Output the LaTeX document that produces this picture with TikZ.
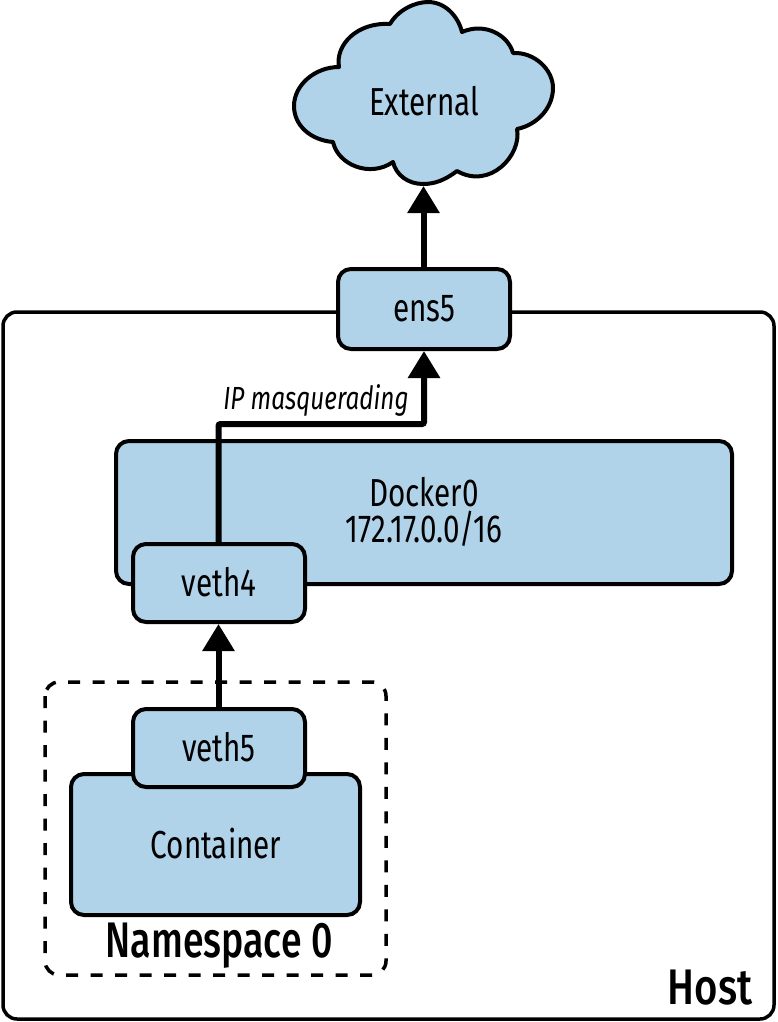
\documentclass[tikz,border=0pt]{standalone}
\usepackage{fontspec}
\usepackage{graphicx}
\setmainfont[FakeStretch=0.76]{Fira Sans}
\newfontfamily\medfont[FakeStretch=0.75]{Fira Sans Medium}
\usetikzlibrary{arrows.meta}
\definecolor{boxblue}{HTML}{B0D3EA}
\tikzset{
  netbox/.style={draw=black,fill=boxblue,line width=4pt,rounded corners=13pt,minimum width=#1,inner sep=0pt,anchor=center},
  lbl/.style={font=\fontsize{39}{37}\selectfont,inner sep=0pt,align=center},
  big/.style={font=\fontsize{50}{44}\medfont,inner sep=0pt},
  flow/.style={line width=6pt,-{Triangle[length=27pt,width=31pt]}},
}
\begin{document}
\begin{tikzpicture}[x=1pt,y=-1pt]
\useasboundingbox (0,0) rectangle (777,1022);
% host
\draw[line width=3.5pt,rounded corners=14pt] (3,312) rectangle (774,1019);
\node[big] (host) at (710,988) {\scalebox{1.07}[1]{Host}};
% namespace
\draw[line width=3.5pt,dashed,dash pattern=on 12pt off 12.5pt,rounded corners=14pt] (45,682) rectangle (386,975);
\node[big] (ns) at (219,946) {Namespace 0};
% cloud
\draw[fill=boxblue,line width=4pt,line join=round] (339,67)
  .. controls (335,45) and (357,22) .. (390,24)
  .. controls (398,10) and (415,2) .. (428,2)
  .. controls (445,2) and (458,16) .. (462,32)
  .. controls (485,22) and (508,35) .. (513,53)
  .. controls (535,52) and (553,70) .. (553,88)
  .. controls (553,108) and (537,125) .. (517,129)
  .. controls (522,155) and (490,190) .. (457,171)
  .. controls (445,180) and (435,184) .. (423,184)
  .. controls (408,184) and (396,175) .. (393,162)
  .. controls (370,178) and (338,165) .. (333,142)
  .. controls (310,140) and (294,125) .. (294,106)
  .. controls (294,85) and (315,67) .. (339,67) -- cycle;
\node[lbl] (ext) at (424,101) {External};
\coordinate (cloudbottom) at (423.5,186);
% boxes
\node[netbox=172pt,minimum height=80pt] (ens5) at (424,309) {};
\node[lbl] at (424,309) {ens5};
\node[netbox=616pt,minimum height=143pt] (docker) at (424,512.5) {};
\node[lbl] at (424,512) {Docker0\\[-1pt]172.17.0.0/16};
\node[netbox=289pt,minimum height=141pt] (cont) at (215.5,844.5) {};
\node[lbl] at (216,844) {Container};
\coordinate (bend) at (218.5,424);
\draw[flow,rounded corners=2pt] (218.5,545) -- (bend) -| (ens5.south);
\draw[flow] (ens5.north -| cloudbottom) -- (cloudbottom);
\node[netbox=172pt,minimum height=78pt] (veth4) at (219,583) {};
\node[lbl] at (219,582) {veth4};
\draw[flow] (218.5,710) -- (veth4.south -| 218.5,0);
\node[netbox=172pt,minimum height=78pt] (veth5) at (219,748) {};
\node[lbl] at (219,747) {veth5};
\node[font=\fontsize{32}{30}\selectfont\itshape,inner sep=0pt] (ip) at (316,400) {IP masquerading};
\end{tikzpicture}
\end{document}
